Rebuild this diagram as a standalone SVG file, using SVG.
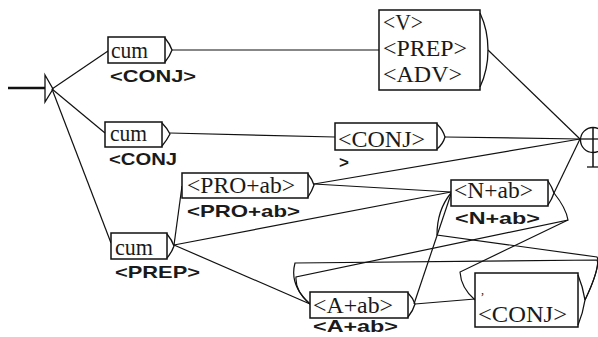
<svg xmlns="http://www.w3.org/2000/svg" width="598" height="337" viewBox="0 0 598 337">
<style>
.bx{fill:#fff;stroke:#111;stroke-width:1.5}
.ar{fill:none;stroke:#111;stroke-width:1.3}
.t{font-family:"Liberation Serif","Times New Roman",serif;font-size:23px;fill:#1a1a1a}
.l{font-family:"Liberation Sans",Arial,sans-serif;font-size:17px;font-weight:bold;fill:#1a1a1a}
#edges path,#edges line{fill:none;stroke:#111;stroke-width:1.2}
</style>
<rect width="598" height="337" fill="#fff"/>
<g id="edges">
<line x1="8" y1="88" x2="45" y2="88" style="stroke-width:2.5"/>
<line x1="52" y1="89" x2="108" y2="51"/>
<line x1="52" y1="89" x2="105" y2="133"/>
<line x1="52" y1="89" x2="111" y2="243"/>
<line x1="172" y1="50" x2="379" y2="50"/>
<line x1="170" y1="133" x2="335" y2="137"/>
<line x1="174" y1="245" x2="182" y2="186"/>
<line x1="174" y1="245" x2="451" y2="192"/>
<line x1="174" y1="245" x2="310" y2="304"/>
<line x1="314" y1="184" x2="580" y2="139"/>
<line x1="314" y1="184" x2="451" y2="192"/>
<line x1="488" y1="50" x2="580" y2="139"/>
<line x1="445" y1="137" x2="580" y2="139"/>
<line x1="554" y1="193" x2="580" y2="139"/>
<line x1="414" y1="304" x2="451" y2="194"/>
<line x1="415" y1="304" x2="475" y2="299"/>
<path d="M585,300 C592,285 600,266 597,260 L295,263 Q289,285 310,304"/>
<path d="M554,193 Q566,208 568,220 L296,277 Q295,292 310,304"/>
<path d="M585,300 C594,282 600,262 597,257 L437,235 Q437,210 451,193"/>
<path d="M568,220 L460,272 Q461,288 475,300"/>
</g>
<g id="init">
<path d="M45,75 L53,89 L45,102 Z" class="ar"/>
</g>
<g id="n_cum1">
<rect class="bx" x="108" y="37" width="57" height="26"/>
<path class="ar" d="M165,38 Q170,44 172,50 Q170,56 165,62"/>
<text class="t" x="111" y="58" textLength="37" lengthAdjust="spacingAndGlyphs">cum</text>
<text class="l" x="110" y="82" textLength="86" lengthAdjust="spacingAndGlyphs">&lt;CONJ&gt;</text>
</g>
<g id="n_cum2">
<rect class="bx" x="105" y="122" width="57" height="25"/>
<path class="ar" d="M162,123 Q167,128 170,134 Q167,140 162,146"/>
<text class="t" x="110" y="141" textLength="37" lengthAdjust="spacingAndGlyphs">cum</text>
<text class="l" x="109" y="165" textLength="68" lengthAdjust="spacingAndGlyphs">&lt;CONJ</text>
<text class="l" x="339" y="168">&gt;</text>
</g>
<g id="n_cum3">
<rect class="bx" x="111" y="233" width="56" height="26"/>
<path class="ar" d="M167,234 Q172,240 174,246 Q172,252 167,258"/>
<text class="t" x="115" y="255" textLength="38" lengthAdjust="spacingAndGlyphs">cum</text>
<text class="l" x="115" y="278" textLength="85" lengthAdjust="spacingAndGlyphs">&lt;PREP&gt;</text>
</g>
<g id="n_vpa">
<rect class="bx" x="379" y="10" width="101" height="80"/>
<path class="ar" d="M480,13 Q488,30 488,50 Q488,70 480,87"/>
<text class="t" x="383" y="30" textLength="40" lengthAdjust="spacingAndGlyphs">&lt;V&gt;</text>
<text class="t" x="383" y="56" textLength="84" lengthAdjust="spacingAndGlyphs">&lt;PREP&gt;</text>
<text class="t" x="383" y="82" textLength="79" lengthAdjust="spacingAndGlyphs">&lt;ADV&gt;</text>
</g>
<g id="n_conj_mid">
<rect class="bx" x="335" y="123" width="102" height="27"/>
<path class="ar" d="M437,124 Q443,130 445,137 Q443,144 437,149"/>
<text class="t" x="338" y="147" textLength="87" lengthAdjust="spacingAndGlyphs">&lt;CONJ&gt;</text>
</g>
<g id="n_pro">
<rect class="bx" x="182" y="173" width="126" height="25"/>
<path class="ar" d="M308,174 Q312,179 314,185 Q312,191 308,197"/>
<text class="t" x="187" y="193" textLength="108" lengthAdjust="spacingAndGlyphs">&lt;PRO+ab&gt;</text>
<text class="l" x="187" y="217" textLength="113" lengthAdjust="spacingAndGlyphs">&lt;PRO+ab&gt;</text>
</g>
<g id="n_n">
<rect class="bx" x="451" y="180" width="97" height="26"/>
<path class="ar" d="M548,181 Q552,187 554,193 Q552,199 548,205"/>
<text class="t" x="454" y="198" textLength="79" lengthAdjust="spacingAndGlyphs">&lt;N+ab&gt;</text>
<text class="l" x="455" y="224" textLength="85" lengthAdjust="spacingAndGlyphs">&lt;N+ab&gt;</text>
</g>
<g id="n_a">
<rect class="bx" x="310" y="292" width="98" height="26"/>
<path class="ar" d="M408,293 Q413,298 415,304 Q413,311 408,317"/>
<text class="t" x="313" y="313" textLength="80" lengthAdjust="spacingAndGlyphs">&lt;A+ab&gt;</text>
<text class="l" x="313" y="332" textLength="85" lengthAdjust="spacingAndGlyphs">&lt;A+ab&gt;</text>
</g>
<g id="n_conj_bot">
<rect class="bx" x="475" y="273" width="103" height="54"/>
<path class="ar" d="M578,275 Q583,287 585,300 Q583,313 578,325"/>
<text class="t" x="481" y="294" style="font-size:12px">,</text>
<text class="t" x="478" y="322" textLength="89" lengthAdjust="spacingAndGlyphs">&lt;CONJ&gt;</text>
</g>
<g id="final">
<circle cx="593" cy="140" r="12.5" fill="none" stroke="#111" stroke-width="1.3"/>
<line x1="580" y1="139" x2="598" y2="139" stroke="#111" stroke-width="1.3"/>
<line x1="593" y1="128" x2="593" y2="167" stroke="#111" stroke-width="1.5"/>
<line x1="587" y1="167" x2="598" y2="167" stroke="#111" stroke-width="1.3"/>
</g>
</svg>
